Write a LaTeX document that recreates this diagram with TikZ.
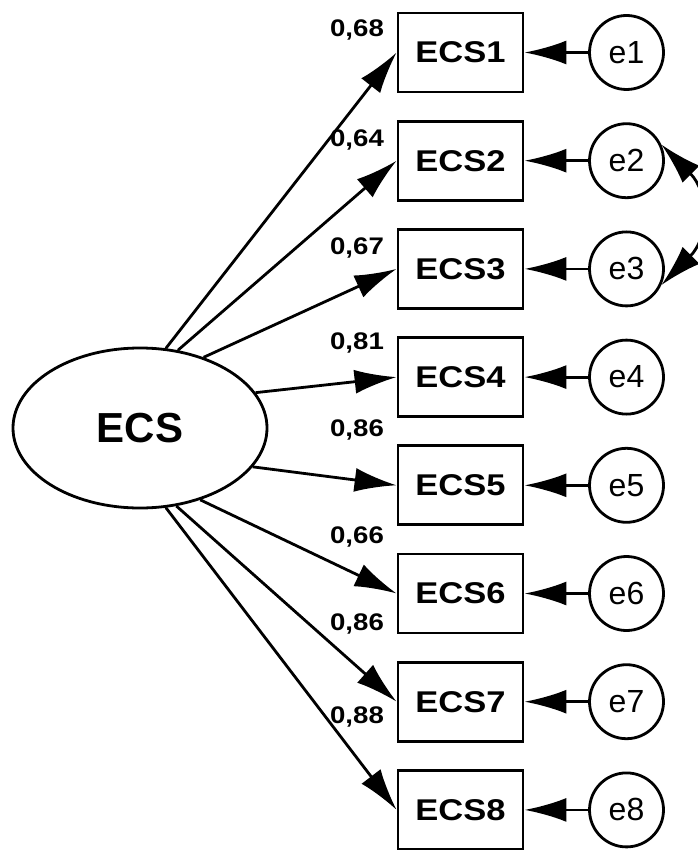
\documentclass[tikz,border=0pt]{standalone}
\usepackage{fontspec}
\setmainfont{Liberation Sans}
\newfontfamily\widefont[FakeStretch=1.15]{Liberation Sans}
\usetikzlibrary{arrows.meta,shapes.geometric}

\begin{document}
\begin{tikzpicture}[x=0.5pt,y=-0.5pt,line width=1.4pt,
  obs/.style={draw,minimum width=62.5pt,minimum height=39.5pt,inner sep=0pt,
    font=\widefont\bfseries\fontsize{15}{17}\selectfont},
  err/.style={draw,circle,minimum size=37pt,inner sep=0pt,
    font=\fontsize{16}{18}\selectfont},
  lat/.style={draw,ellipse,minimum width=127pt,minimum height=80pt,inner sep=0pt,
    font=\bfseries\fontsize{21}{24}\selectfont},
  load/.style={font=\widefont\bfseries\fontsize{12}{13}\selectfont},
  tip/.style={-{Latex[length=21pt,width=12pt]}},
  cov/.style={{Latex[length=21pt,width=12pt]}-{Latex[length=21pt,width=12pt]}}]
\useasboundingbox (0,0) rectangle (697,850);
\node[lat] (ECS) at (140,428) {ECS};
% observed items and their errors
\foreach \i/\y in {1/52.5,2/160.7,3/268.9,4/377.1,5/485.3,6/593.5,7/701.7,8/809.9} {
  \node[obs] (ECS\i) at (460.5,\y) {ECS\i};
  \node[err] (e\i) at (626.5,\y) {e\i};
  \draw[tip] (e\i) -- (ECS\i);
}
% loadings
\foreach \i/\a/\w/\ly in {1/72/{0,68}/30,2/64/{0,64}/140,3/48/{0,67}/248,4/17/{0,81}/343,
    5/-19/{0,86}/430,6/-50/{0,66}/537,7/-65/{0,86}/624,8/-72/{0,88}/717} {
  \draw[tip] (ECS.\a) -- (ECS\i.west);
  \node[load] (w\i) at (357,\ly) {\w};
}
\draw[cov] (e2.25) .. controls +(45:68) and +(-45:68) .. (e3.-25);
\end{tikzpicture}
\end{document}
